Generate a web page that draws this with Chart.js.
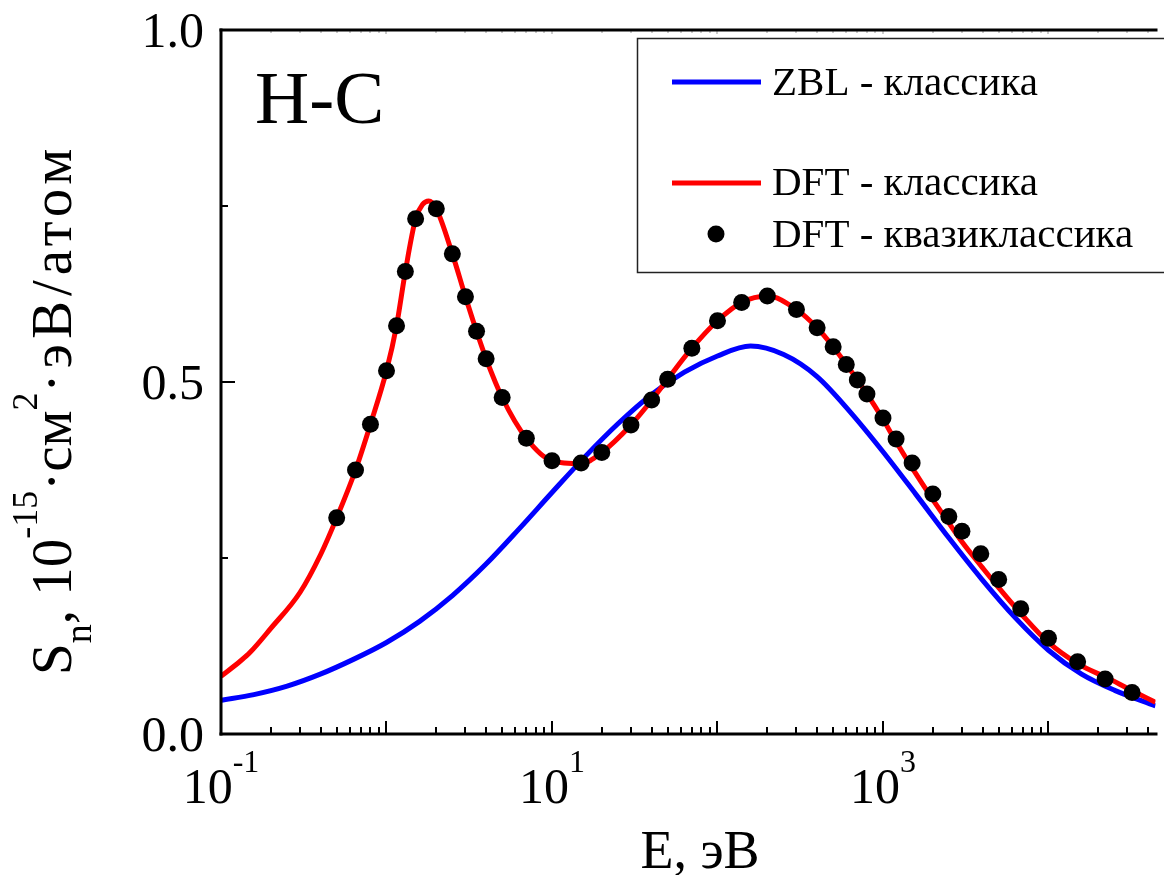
<!DOCTYPE html>
<html>
<head>
<meta charset="utf-8">
<script src="https://cdn.jsdelivr.net/npm/chart.js@4/dist/chart.umd.min.js"></script>
<style>
html,body{margin:0;padding:0;background:#fff;}
canvas{display:block;}
</style>
</head>
<body>
<canvas id="c" width="1164" height="875"></canvas>
<script>
// ---------------- data ----------------
const zblE = [0.1, 0.158, 0.251, 0.398, 0.631, 1, 1.585, 2.512, 3.981, 6.31, 10, 15.85, 25.12, 39.81, 63.1, 100, 158.5, 251.2, 398.1, 631, 1000, 1585, 2512, 3981, 6310, 10000, 15850, 25120, 44330];
const zblS = [0.048, 0.056, 0.068, 0.085, 0.106, 0.130, 0.160, 0.197, 0.241, 0.291, 0.343, 0.394, 0.441, 0.482, 0.514, 0.537, 0.551, 0.539, 0.508, 0.458, 0.401, 0.340, 0.278, 0.219, 0.165, 0.119, 0.085, 0.062, 0.040];

const dftE = [0.1, 0.13, 0.15, 0.2, 0.3, 0.4, 0.5, 0.65, 0.8, 1.0, 1.15, 1.3, 1.5, 1.65, 1.8, 2.0, 2.5, 3.0, 3.5, 4.0, 5.0, 7.0, 10, 15, 20, 30, 40, 50, 70, 100, 140, 200, 300, 400, 500, 600, 700, 800, 1000, 1200, 1500, 2000, 2500, 3000, 4000, 5000, 7000, 10000, 15000, 23000, 30000, 44330];
const dftS = [0.082, 0.103, 0.116, 0.150, 0.201, 0.255, 0.307, 0.375, 0.440, 0.516, 0.580, 0.657, 0.732, 0.752, 0.757, 0.746, 0.682, 0.621, 0.572, 0.533, 0.478, 0.420, 0.388, 0.384, 0.400, 0.439, 0.474, 0.504, 0.548, 0.587, 0.613, 0.622, 0.603, 0.577, 0.550, 0.525, 0.503, 0.483, 0.447, 0.415, 0.378, 0.333, 0.300, 0.273, 0.236, 0.208, 0.168, 0.130, 0.100, 0.079, 0.065, 0.045];

const qcE = [0.5, 0.65, 0.8, 1.0, 1.15, 1.3, 1.5, 2.0, 2.5, 3.0, 3.5, 4.0, 5.0, 7.0, 10, 15, 20, 30, 40, 50, 70, 100, 140, 200, 300, 400, 500, 600, 700, 800, 1000, 1200, 1500, 2000, 2500, 3000, 3900, 5000, 6800, 10000, 15000, 22000, 32000];
const qcS = [0.307, 0.375, 0.440, 0.516, 0.580, 0.657, 0.732, 0.746, 0.682, 0.621, 0.572, 0.533, 0.478, 0.420, 0.388, 0.385, 0.400, 0.439, 0.4745, 0.504, 0.548, 0.587, 0.613, 0.622, 0.603, 0.577, 0.550, 0.525, 0.503, 0.483, 0.449, 0.419, 0.385, 0.341, 0.309, 0.288, 0.256, 0.2195, 0.178, 0.136, 0.1025, 0.078, 0.059];

const seriesLabels = ['ZBL - классика', 'DFT - классика', 'DFT - квазиклассика'];

// axes / ticks
const xMin = 0.1, xMax = 44330;
const yMin = 0, yMax = 1;
const xLabelValues = [0.1, 10, 1000];
const xLabelBase = ['10', '10', '10'];
const xLabelExp = ['-1', '1', '3'];
const yMajor = [0, 0.5, 1.0];
const yMajorLabels = ['0.0', '0.5', '1.0'];
const yMinor = [0.25, 0.75];
const xTitle = 'E, эВ';
const yTitleParts = [
  ['S', 'n'], ['n', 'sub'], [', 10', 'n'], ['-15', 'sup'], ['·см', 'n'], ['2', 'sup'], ['·эВ/атом', 'n']
];
const panelLabel = 'H-C';

const FONT = '"Liberation Serif", "Times New Roman", serif';

const decor = {
  id: 'decor',
  afterDraw(chart) {
    const ctx = chart.ctx, a = chart.chartArea, xs = chart.scales.x, ys = chart.scales.y;
    ctx.save();
    const seg = (x1, y1, x2, y2) => { ctx.beginPath(); ctx.moveTo(x1, y1); ctx.lineTo(x2, y2); ctx.stroke(); };

    // x ticks (bottom inward, top faint)
    for (let e = -1; e <= 5; e++) {
      const d = Math.pow(10, e);
      for (let k = 1; k <= 9; k++) {
        const v = k * d;
        if (v > xMax) break;
        const px = Math.round(xs.getPixelForValue(v));
        ctx.strokeStyle = '#000'; ctx.lineWidth = 2;
        seg(px, a.bottom, px, a.bottom - (k === 1 ? 13 : 7));
        ctx.strokeStyle = '#aaa'; ctx.lineWidth = 1.2;
        seg(px, a.top, px, a.top + (k === 1 ? 4 : 3));
      }
    }
    // y ticks
    ctx.strokeStyle = '#000'; ctx.lineWidth = 2;
    yMajor.forEach(v => { const py = Math.round(ys.getPixelForValue(v)); seg(a.left, py, a.left + 14, py); });
    yMinor.forEach(v => { const py = Math.round(ys.getPixelForValue(v)); seg(a.left, py, a.left + 7, py); });

    // axis lines / frame
    ctx.lineWidth = 3;
    seg(a.left, a.top - 1.5, a.left, a.bottom + 1.5);
    seg(a.left - 1.5, a.bottom, a.right + 2, a.bottom);
    seg(a.left - 1.5, a.top, a.right + 2, a.top);

    // y tick labels
    ctx.fillStyle = '#000';
    ctx.textBaseline = 'alphabetic';
    ctx.font = '50px ' + FONT;
    ctx.textAlign = 'right';
    yMajor.forEach((v, i) => {
      const py = ys.getPixelForValue(v);
      ctx.fillText(yMajorLabels[i], 204, py + 17);
    });

    // x tick labels with superscripts
    ctx.textAlign = 'left';
    xLabelValues.forEach((v, i) => {
      const px = xs.getPixelForValue(v);
      ctx.font = '50px ' + FONT;
      const wb = ctx.measureText(xLabelBase[i]).width;
      ctx.font = '32px ' + FONT;
      const we = ctx.measureText(xLabelExp[i]).width;
      const x0 = px - (wb + we) / 2;
      ctx.font = '50px ' + FONT;
      ctx.fillText(xLabelBase[i], x0, 803);
      ctx.font = '32px ' + FONT;
      ctx.fillText(xLabelExp[i], x0 + wb, 772);
    });

    // x title
    ctx.font = '54px ' + FONT;
    ctx.textAlign = 'center';
    ctx.fillText(xTitle, 700, 868);

    // y title (rotated)
    ctx.save();
    ctx.translate(71, 675);
    ctx.rotate(-Math.PI / 2);
    ctx.textAlign = 'left';
    let cur = 0;
    yTitleParts.forEach(([t, k], i) => {
      let size = 57, dy = 0;
      if (k === 'sub') { size = 38; dy = 20; }
      if (k === 'sup') { size = 36; dy = -34; }
      ctx.font = size + 'px ' + FONT;
      ctx.letterSpacing = (i === yTitleParts.length - 1) ? '5px' : '0px';
      ctx.fillText(t, cur, dy);
      cur += ctx.measureText(t).width;
    });
    ctx.letterSpacing = '0px';
    ctx.restore();

    // panel label
    ctx.font = '75px ' + FONT;
    ctx.textAlign = 'left';
    ctx.fillText(panelLabel, 255, 123);

    // legend
    ctx.strokeStyle = '#222'; ctx.lineWidth = 1.5;
    ctx.strokeRect(637.5, 38.5, 620, 234);
    const ds = chart.data.datasets;
    ctx.lineWidth = 5;
    ctx.strokeStyle = ds[0].borderColor; seg(672, 82, 761, 82);
    ctx.strokeStyle = ds[1].borderColor; seg(672, 183, 761, 183);
    ctx.fillStyle = '#000';
    ctx.beginPath(); ctx.arc(716, 234, 8.5, 0, Math.PI * 2); ctx.fill();
    ctx.font = '41px ' + FONT;
    ctx.textAlign = 'left';
    ctx.fillText(ds[0].label, 772, 95);
    ctx.fillText(ds[1].label, 772, 195);
    ctx.fillText(ds[2].label, 772, 247);

    ctx.restore();
  }
};

const toPts = (xs, ys) => xs.map((x, i) => ({ x: x, y: ys[i] }));

new Chart(document.getElementById('c'), {
  type: 'line',
  data: {
    datasets: [
      { label: seriesLabels[0], data: toPts(zblE, zblS), borderColor: '#0000ff', borderWidth: 5,
        pointRadius: 0, cubicInterpolationMode: 'monotone', fill: false, order: 3 },
      { label: seriesLabels[1], data: toPts(dftE, dftS), borderColor: '#ff0000', borderWidth: 5,
        pointRadius: 0, cubicInterpolationMode: 'monotone', fill: false, order: 2 },
      { label: seriesLabels[2], data: toPts(qcE, qcS), showLine: false, borderColor: '#000',
        pointRadius: 8.5, pointBackgroundColor: '#000', pointBorderWidth: 0, order: 1 }
    ]
  },
  options: {
    responsive: false,
    animation: false,
    devicePixelRatio: 1,
    layout: { padding: { left: 221, right: 0, top: 30, bottom: 141 } },
    plugins: { legend: { display: false }, tooltip: { enabled: false } },
    scales: {
      x: { type: 'logarithmic', min: xMin, max: xMax, display: false },
      y: { type: 'linear', min: yMin, max: yMax, display: false }
    }
  },
  plugins: [decor]
});
</script>
</body>
</html>
